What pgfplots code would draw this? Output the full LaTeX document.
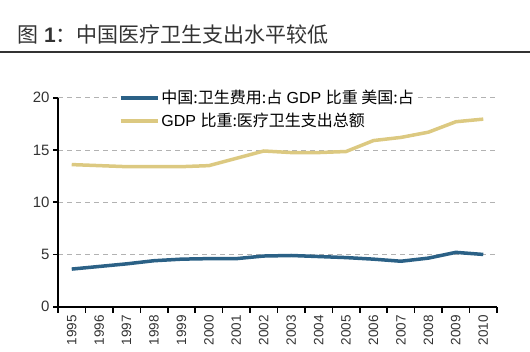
\documentclass[border=0pt]{standalone}
\usepackage{fontspec}
\setmainfont{Liberation Sans}
\newfontfamily\cjk{Noto Sans CJK SC}
\usepackage{pgfplots}
\pgfplotsset{compat=1.18}
\definecolor{cnblue}{HTML}{2B6186}
\definecolor{usyel}{HTML}{DCC981}
\definecolor{titlegray}{HTML}{333333}
\begin{document}
\begin{tikzpicture}
\path[use as bounding box] (0,0) rectangle (530bp,352bp);
\node[anchor=west, text=titlegray, font=\fontsize{21bp}{25bp}\selectfont, inner sep=0pt] at (17bp,317bp) {{\cjk 图} \textbf{1}{\cjk ：中国医疗卫生支出水平较低}};
\draw[titlegray, line width=1.5bp] (0bp,300bp) -- (530bp,300bp);
\begin{axis}[
  at={(58bp,45.3bp)}, anchor=south west,
  scale only axis, width=439bp, height=209bp,
  xmin=-0.5, xmax=15.5, ymin=0, ymax=20,
  axis x line*=bottom, axis y line*=left,
  axis line style={line width=1.6bp, black, -},
  xtick={0,...,15},
  xticklabels={1995,1996,1997,1998,1999,2000,2001,2002,2003,2004,2005,2006,2007,2008,2009,2010},
  x tick label style={rotate=90, anchor=east, font=\fontsize{13.5bp}{15bp}\selectfont, text=black!80},
  minor xtick={-0.5,0.5,...,15.5},
  ytick={0,5,10,15,20},
  y tick label style={font=\fontsize{15bp}{17bp}\selectfont, text=black!80},
  /pgf/number format/assume math mode=true,
  tick align=outside,
  major tick length=5bp, minor tick length=6bp,
  x tick style={draw=none},
  minor x tick style={draw=black, line width=1.6bp},
  y tick style={black, line width=1.6bp},
  ymajorgrids, grid style={dashed, gray!60, line width=0.8bp, dash pattern=on 5bp off 4bp},
  legend style={at={(0.136,1.05)}, anchor=north west, draw=none, fill=white, inner sep=1bp,
    font=\fontsize{16bp}{18bp}\selectfont, row sep=4bp, cells={anchor=west}},
  legend cell align=left,
  legend image code/.code={\draw[#1] (0bp,0bp) -- (37bp,0bp);},
]
\addplot[cnblue, line width=3.5bp] coordinates {
(0,3.6) (1,3.85) (2,4.1) (3,4.4) (4,4.55) (5,4.6) (6,4.6) (7,4.85) (8,4.9) (9,4.8) (10,4.7) (11,4.55) (12,4.35) (13,4.65) (14,5.2) (15,5.0)};
\addlegendentry{{\cjk 中国:卫生费用:占} GDP {\cjk 比重 美国:占}}
\addplot[usyel, line width=3.5bp] coordinates {
(0,13.6) (1,13.5) (2,13.4) (3,13.4) (4,13.4) (5,13.5) (6,14.2) (7,14.9) (8,14.75) (9,14.75) (10,14.85) (11,15.9) (12,16.2) (13,16.7) (14,17.7) (15,17.95)};
\addlegendentry{GDP {\cjk 比重:医疗卫生支出总额}}
\end{axis}
\end{tikzpicture}
\end{document}
